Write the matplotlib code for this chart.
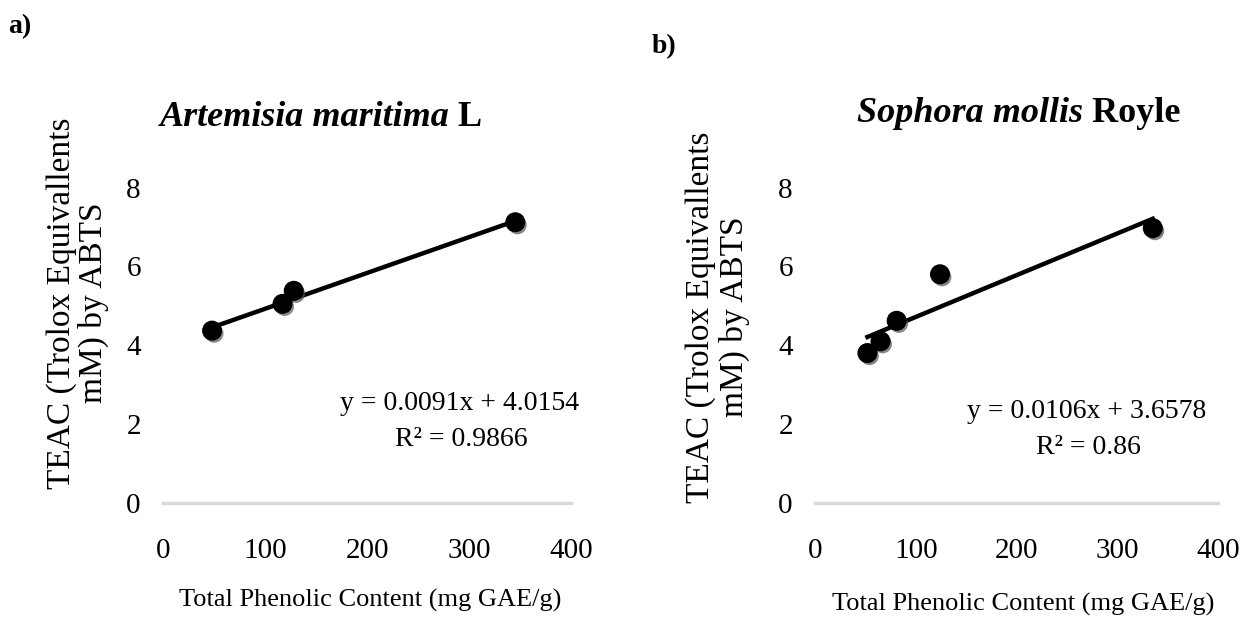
import matplotlib
matplotlib.use("Agg")
import matplotlib.pyplot as plt
import matplotlib.patheffects as pe
import numpy as np

plt.rcParams['font.family'] = ['Liberation Serif', 'DejaVu Serif']

# Data
art_x = [48, 117, 128, 345]
art_y = [4.37, 5.05, 5.38, 7.12]
art_slope, art_icpt = 0.0091, 4.0154

soph_x = [52, 65, 81, 124, 335]
soph_y = [3.80, 4.10, 4.62, 5.80, 6.97]
soph_slope, soph_icpt = 0.0106, 3.6578

xticks = [0, 100, 200, 300, 400]
yticks = [0, 2, 4, 6, 8]

W, H = 1245, 617
fig = plt.figure(figsize=(W / 100, H / 100), dpi=100)

ax_a = fig.add_axes([0.131, 0.185, 0.328, 0.511])
ax_b = fig.add_axes([0.6546, 0.185, 0.324, 0.511])

shadow = [pe.SimplePatchShadow(offset=(1.5, -2), shadow_rgbFace='#555555', alpha=0.7),
          pe.Normal()]


def px(x, y):
    # pixel position (from top-left) -> figure fraction
    return x / W, 1 - y / H


def draw_panel(ax, xs, ys, slope, icpt, eq_pos, r2_pos, eq_text, r2_text):
    ax.scatter(xs, ys, s=180, color='black', zorder=3, path_effects=shadow)
    fx = np.array([min(xs), max(xs)])
    ax.plot(fx, slope * fx + icpt, color='black', lw=3.2, zorder=2)
    ax.set_xlim(0, 400)
    ax.set_ylim(0, 8)
    ax.set_xticks(xticks)
    ax.set_yticks(yticks)
    for s in ['top', 'right', 'left']:
        ax.spines[s].set_visible(False)
    ax.spines['bottom'].set_color('#d9d9d9')
    ax.spines['bottom'].set_linewidth(2.5)
    ax.tick_params(length=0, labelsize=21)
    ax.tick_params(axis='y', pad=16)
    ax.tick_params(axis='x', pad=25)
    fig.text(*px(*eq_pos), eq_text, ha='center', va='center', fontsize=20)
    fig.text(*px(*r2_pos), r2_text, ha='center', va='center', fontsize=20)


draw_panel(ax_a, art_x, art_y, art_slope, art_icpt,
           (460, 403), (461, 440), 'y = 0.0091x + 4.0154', 'R² = 0.9866')
draw_panel(ax_b, soph_x, soph_y, soph_slope, soph_icpt,
           (1087, 411), (1088, 448), 'y = 0.0106x + 3.6578', 'R² = 0.86')

# titles: italic species name + upright authority
t1a = fig.text(0, 0, 'Artemisia maritima', fontsize=26, fontweight='bold', style='italic')
t1b = fig.text(0, 0, ' L', fontsize=26, fontweight='bold')
t2a = fig.text(0, 0, 'Sophora mollis', fontsize=26, fontweight='bold', style='italic')
t2b = fig.text(0, 0, ' Royle', fontsize=26, fontweight='bold')

fig.canvas.draw()
r = fig.canvas.get_renderer()


def place_title(ta, tb, cx, cy):
    wa = ta.get_window_extent(r).width
    wb = tb.get_window_extent(r).width
    left = cx - (wa + wb) / 2
    ta.set_position(px(left, cy))
    tb.set_position(px(left + wa, cy))
    ta.set_va('center')
    tb.set_va('center')


place_title(t1a, t1b, 321, 118)
place_title(t2a, t2b, 1019, 113)

# y labels
for x1, x2, yc in [(62, 93, 303), (701, 734, 317)]:
    fig.text(*px(x1, yc), 'TEAC (Trolox Equivallents', rotation=90,
             ha='center', va='center', fontsize=24)
    fig.text(*px(x2, yc), 'mM) by ABTS', rotation=90,
             ha='center', va='center', fontsize=24)

# x labels
fig.text(*px(370, 600), 'Total Phenolic Content (mg GAE/g)',
         ha='center', va='center', fontsize=19)
fig.text(*px(1023, 604), 'Total Phenolic Content (mg GAE/g)',
         ha='center', va='center', fontsize=19)

# panel letters
fig.text(*px(20, 27), 'a)', ha='center', va='center', fontsize=20, fontweight='bold')
fig.text(*px(664, 47), 'b)', ha='center', va='center', fontsize=20, fontweight='bold')

fig.savefig('out.png', dpi=100)
